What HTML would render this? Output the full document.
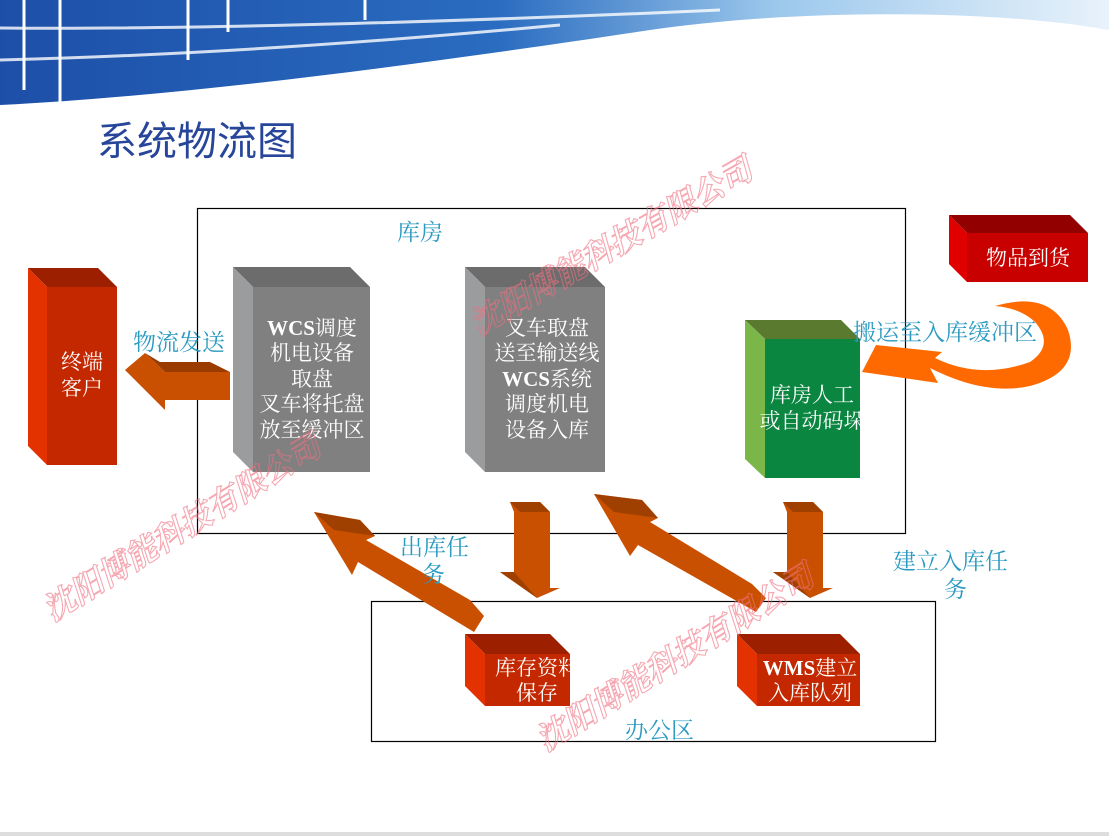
<!DOCTYPE html>
<html><head><meta charset="utf-8"><style>
html,body{margin:0;padding:0;background:#fff;width:1109px;height:836px;overflow:hidden}
svg{display:block}
.bt{font-family:"Liberation Serif","Noto Serif CJK SC",serif;font-size:21px;fill:#fff;text-anchor:middle}
.lb{font-family:"Liberation Serif","Noto Serif CJK SC",serif;font-size:23px;fill:#2b9ac0}
.wm{font-family:"Liberation Serif","Noto Serif CJK SC",serif;font-size:32px;fill:none;stroke:#f07080;stroke-width:1.1;font-style:italic;font-weight:bold;opacity:.6}
</style></head><body>
<svg width="1109" height="836" viewBox="0 0 1109 836" xmlns="http://www.w3.org/2000/svg">
<defs>
<linearGradient id="hb" x1="0" y1="0" x2="1" y2="0">
<stop offset="0" stop-color="#1d4fa8"/><stop offset="0.45" stop-color="#2a6cc0"/><stop offset="0.7" stop-color="#9cc8ec"/><stop offset="1" stop-color="#e8f2fb"/>
</linearGradient>
</defs>
<path d="M0,0 H1109 V30 C1000,10 800,8 650,30 C450,60 200,95 0,105 Z" fill="url(#hb)"/>
<path d="M0,28 C200,30 500,20 720,10" stroke="#fff" stroke-width="3" fill="none" opacity=".8"/>
<path d="M0,60 C200,55 400,40 560,25" stroke="#fff" stroke-width="3" fill="none" opacity=".8"/>
<path d="M24,0 V90 M60,0 V104 M188,0 V60 M228,0 V32 M365,0 V20" stroke="#fff" stroke-width="3" fill="none"/>
<rect x="0" y="832" width="1109" height="4" fill="#ddd"/>
<text x="97" y="155" font-family="'Liberation Sans','Noto Sans CJK SC',sans-serif" font-size="40" fill="#27469a">系统物流图</text>

<rect x="197.5" y="208.5" width="708" height="325" fill="none" stroke="#000" stroke-width="1.2"/>
<rect x="371.5" y="601.5" width="564" height="140" fill="none" stroke="#000" stroke-width="1.2"/>
<text x="397" y="240" class="lb" font-size="24">库房</text>
<text x="625" y="738" class="lb" font-size="24">办公区</text>

<polygon points="28,268 98,268 117,287 47,287" fill="#9c2000"/>
<polygon points="28,268 47,287 47,465 28,446" fill="#e33200"/>
<rect x="47" y="287" width="70" height="178" fill="#c42800"/>
<text class="bt" x="82" y="369">终端</text><text class="bt" x="82" y="395">客户</text>

<polygon points="233,267 350,267 370,287 253,287" fill="#6c6c6c"/>
<polygon points="233,267 253,287 253,472 233,452" fill="#9a9c9e"/>
<rect x="253" y="287" width="117" height="185" fill="#808080"/>
<text class="bt" x="312" y="335"><tspan font-weight="bold">WCS</tspan>调度</text><text class="bt" x="312" y="360">机电设备</text><text class="bt" x="312" y="386">取盘</text><text class="bt" x="312" y="411">叉车将托盘</text><text class="bt" x="312" y="437">放至缓冲区</text>

<polygon points="465,267 585,267 605,287 485,287" fill="#6c6c6c"/>
<polygon points="465,267 485,287 485,472 465,452" fill="#9a9c9e"/>
<rect x="485" y="287" width="120" height="185" fill="#808080"/>
<text class="bt" x="547" y="335">叉车取盘</text><text class="bt" x="547" y="360">送至输送线</text><text class="bt" x="547" y="386"><tspan font-weight="bold">WCS</tspan>系统</text><text class="bt" x="547" y="411">调度机电</text><text class="bt" x="547" y="437">设备入库</text>

<polygon points="745,320 841,320 860,339 765,339" fill="#5a7a30"/>
<polygon points="745,320 765,339 765,478 745,459" fill="#7ab648"/>
<rect x="765" y="339" width="95" height="139" fill="#0a8640"/>
<svg x="745" y="380" width="115" height="60" overflow="hidden"><text class="bt" x="67" y="22">库房人工</text><text class="bt" x="67" y="48">或自动码垛</text></svg>

<polygon points="949,215 1070,215 1088,233 967,233" fill="#920000"/>
<polygon points="949,215 967,233 967,282 949,264" fill="#e00000"/>
<rect x="967" y="233" width="121" height="49" fill="#c80000"/>
<text class="bt" x="1028" y="265">物品到货</text>

<polygon points="465,634 550,634 570,654 485,654" fill="#9c2000"/>
<polygon points="465,634 485,654 485,706 465,686" fill="#e33200"/>
<rect x="485" y="654" width="85" height="52" fill="#c42800"/>
<text class="bt" x="537" y="675">库存资料</text><text class="bt" x="537" y="700">保存</text>

<polygon points="737,634 840,634 860,654 757,654" fill="#9c2000"/>
<polygon points="737,634 757,654 757,706 737,686" fill="#e33200"/>
<rect x="757" y="654" width="103" height="52" fill="#c42800"/>
<text class="bt" x="810" y="675"><tspan font-weight="bold">WMS</tspan>建立</text><text class="bt" x="810" y="700">入库队列</text>

<!-- left arrow -->
<polygon points="125,370 145,353 165,372 230,372 230,400 165,400 165,410" fill="#c85000"/>
<polygon points="145,353 165,372 230,372 210,362 160,362" fill="#9a3c00"/>

<g>
<polygon points="510,502 540,502 550,512 550,588 560,588 537,598 500,572 514,572 514,512" fill="#c85000"/>
<polygon points="510,502 540,502 550,512 520,512" fill="#a04000"/>
<polygon points="500,572 514,572 537,598" fill="#a04000"/>
</g>
<g>
<polygon points="783,502 813,502 823,512 823,588 833,588 810,598 773,572 787,572 787,512" fill="#c85000"/>
<polygon points="783,502 813,502 823,512 793,512" fill="#a04000"/>
<polygon points="773,572 787,572 810,598" fill="#a04000"/>
</g>

<polygon points="314,512 360,520 375,536 366,540 470,600 484,616 474,632 358,562 352,575" fill="#c85000"/>
<polygon points="314,512 360,520 375,536 334,530" fill="#a04000"/>
<polygon points="594,494 642,500 658,518 650,522 752,584 766,598 756,612 638,545 630,556" fill="#c85000"/>
<polygon points="594,494 642,500 658,518 614,512" fill="#a04000"/>

<path d="M995,306 Q1050,290 1068,330 Q1082,372 1030,386 Q985,396 930,368 L938,383 L862,372 L876,345 L942,352 L935,358 Q980,380 1030,362 Q1055,345 1035,322 Q1020,308 995,306 Z" fill="#ff6a00"/>

<text class="lb" x="133" y="350">物流发送</text>
<text class="lb" x="400" y="555">出库任</text>
<text class="lb" x="422" y="582">务</text>
<text class="lb" x="893" y="569">建立入库任</text>
<text class="lb" x="944" y="597">务</text>
<text class="lb" x="853" y="340">搬运至入库缓冲区</text>

<text class="wm" transform="translate(478,336) rotate(-30)">沈阳博能科技有限公司</text>
<text class="wm" transform="translate(52,622) rotate(-32)">沈阳博能科技有限公司</text>
<text class="wm" transform="translate(545,752) rotate(-32)">沈阳博能科技有限公司</text>
</svg>
</body></html>
